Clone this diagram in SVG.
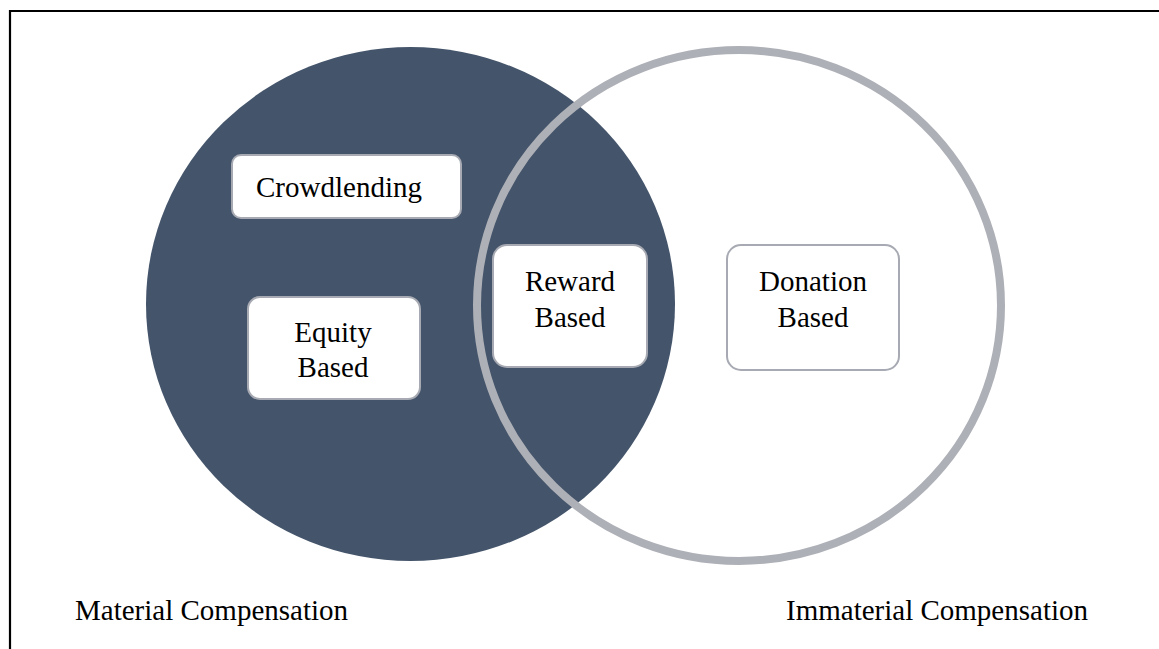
<svg xmlns="http://www.w3.org/2000/svg" width="1159" height="649" viewBox="0 0 1159 649">
  <style>
    .box { fill: #ffffff; stroke: #a7aab2; stroke-width: 2; }
    .lbl { font-family: "Liberation Serif", "Times New Roman", serif; font-size: 29px; fill: #000000; text-anchor: middle; }
    .cap { font-family: "Liberation Serif", "Times New Roman", serif; font-size: 29px; fill: #000000; }
  </style>
  <rect x="0" y="0" width="1159" height="649" fill="#ffffff"/>
  <!-- frame -->
  <g id="frame" stroke="#000000" stroke-width="2.2" fill="none">
    <line x1="10" y1="11" x2="1159" y2="11"/>
    <line x1="10" y1="10" x2="10" y2="649"/>
  </g>
  <!-- sets -->
  <g id="set-material">
    <ellipse cx="410.5" cy="304" rx="264.5" ry="257" fill="#44546a"/>
  </g>
  <g id="set-immaterial">
    <ellipse cx="739" cy="305.5" rx="262" ry="255.5" fill="none" stroke="#aeb0b7" stroke-width="8"/>
  </g>
  <!-- category boxes -->
  <g id="node-crowdlending">
    <rect class="box" x="232" y="155" width="229" height="63" rx="9"/>
    <text class="lbl" x="339" y="197">Crowdlending</text>
  </g>
  <g id="node-equity">
    <rect class="box" x="248" y="297" width="172" height="102" rx="12"/>
    <text class="lbl" x="333" y="342">Equity</text>
    <text class="lbl" x="333" y="377">Based</text>
  </g>
  <g id="node-reward">
    <rect class="box" x="493" y="245" width="154" height="122" rx="14"/>
    <text class="lbl" x="570" y="291">Reward</text>
    <text class="lbl" x="570" y="327">Based</text>
  </g>
  <g id="node-donation">
    <rect class="box" x="727" y="245" width="172" height="125" rx="14"/>
    <text class="lbl" x="813" y="291">Donation</text>
    <text class="lbl" x="813" y="327">Based</text>
  </g>
  <g id="connectors"/>
  <!-- set captions -->
  <g id="caption-material">
    <text class="cap" x="75" y="620">Material Compensation</text>
  </g>
  <g id="caption-immaterial">
    <text class="cap" x="786" y="620">Immaterial Compensation</text>
  </g>
</svg>
